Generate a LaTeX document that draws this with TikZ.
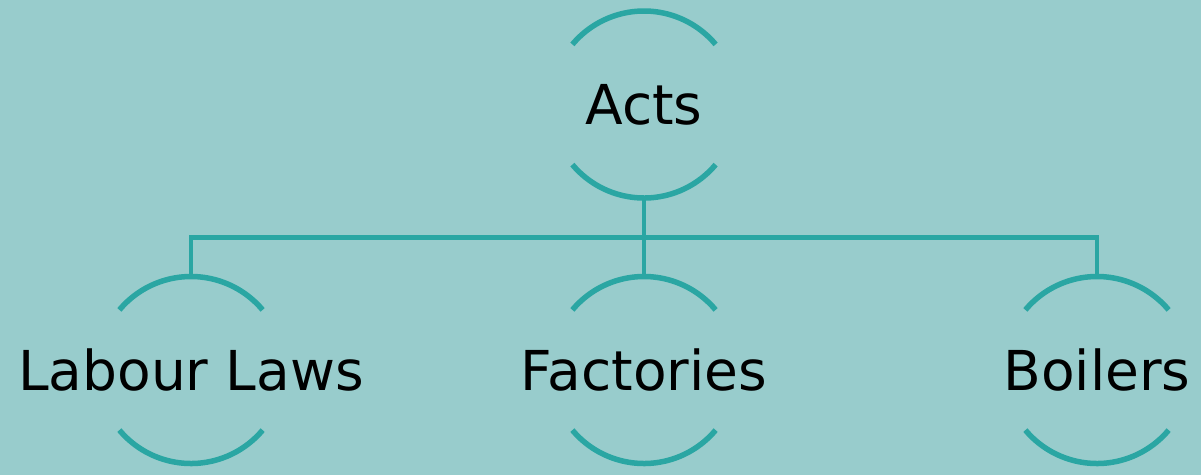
\documentclass[tikz,border=0pt]{standalone}
\usepackage{fontspec}
\setmainfont{DejaVu Sans}
\usetikzlibrary{calc}
\definecolor{bgc}{RGB}{152,204,204}
\definecolor{tealc}{RGB}{42,166,163}
\begin{document}
\begin{tikzpicture}[x=1pt,y=-1pt,
  arcline/.style={draw=tealc,line width=5.5pt},
  conn/.style={draw=tealc,line width=4.8pt},
  lbl/.style={font=\fontsize{55}{60}\selectfont,anchor=base,inner sep=0pt,text=black}]
\fill[bgc] (0,0) rectangle (1201,475);
\useasboundingbox (0,0) rectangle (1201,475);
% circle centres
\coordinate (cA) at (644,104.5);
\coordinate (cL) at (191,370);
\coordinate (cF) at (644,370);
\coordinate (cB) at (1097,370);
\foreach \c in {cA,cL,cF,cB}{
  \draw[arcline] (\c) ++(140:93.5) arc[start angle=140,end angle=40,radius=93.5];
  \draw[arcline] (\c) ++(220:93.5) arc[start angle=220,end angle=320,radius=93.5];
}
\node[lbl] (acts) at (644,124) {Acts};
\node[lbl] (labour) at (191,390) {Labour Laws};
\node[lbl] (fact) at (644,390) {Factories};
\node[lbl] (boil) at (1097,390) {Boilers};
\coordinate (aB) at ($(cA)+(0,93.5)$);
\coordinate (lT) at ($(cL)+(0,-93.5)$);
\coordinate (fT) at ($(cF)+(0,-93.5)$);
\coordinate (bT) at ($(cB)+(0,-93.5)$);
\draw[conn] (aB) -- (fT);
\draw[conn] (lT) -- ++(0,-39) -| (bT);
\end{tikzpicture}
\end{document}
